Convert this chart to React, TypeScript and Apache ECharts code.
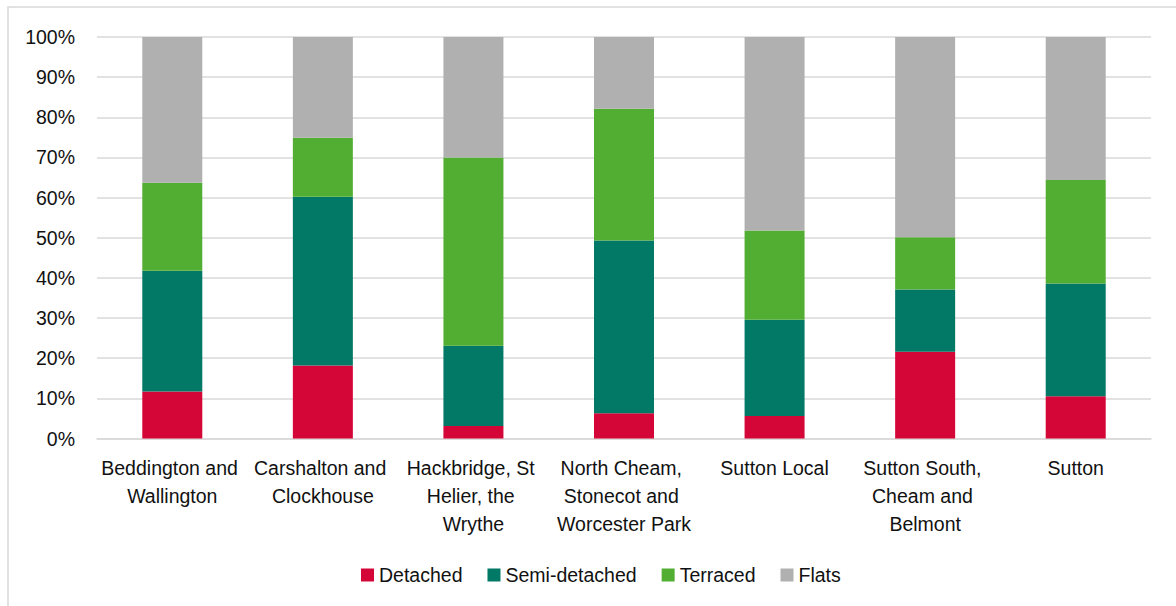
import React, { useEffect, useRef } from "react";
import * as echarts from "echarts";

// Housing stock by type, share of dwellings (%) per area
const areas = [
  "Beddington and Wallington",
  "Carshalton and Clockhouse",
  "Hackbridge, St Helier, the Wrythe",
  "North Cheam, Stonecot and Worcester Park",
  "Sutton Local",
  "Sutton South, Cheam and Belmont",
  "Sutton",
];

const detached = [11.7, 18.2, 3.1, 6.3, 5.6, 21.6, 10.5];
const semiDetached = [30.1, 42.0, 20.0, 43.0, 24.0, 15.5, 28.1];
const terraced = [21.9, 14.7, 46.9, 32.8, 22.2, 13.0, 25.8];
const flats = [36.3, 25.1, 30.0, 17.9, 48.2, 49.9, 35.6];

const seriesNames = ["Detached", "Semi-detached", "Terraced", "Flats"];
const seriesData = [detached, semiDetached, terraced, flats];
const seriesColors = ["#D40637", "#027866", "#52AE32", "#B0B0B0"];

const FONT = "'Liberation Sans', Arial, sans-serif";
const FONT_SIZE = 19.5;
const TEXT_COLOR = "#111111";

export default function App() {
  const ref = useRef<HTMLDivElement>(null);

  useEffect(() => {
    if (!ref.current) return;
    const chart = echarts.init(ref.current, undefined, { renderer: "svg" });
    chart.setOption({
      animation: false,
      backgroundColor: "#ffffff",
      textStyle: { fontFamily: FONT },
      graphic: [
        {
          type: "rect",
          shape: { x: 8, y: 7, width: 1200, height: 640 },
          style: { fill: "none", stroke: "#d9d9d9", lineWidth: 1.5 },
          silent: true,
        },
      ],
      grid: { left: 97, right: 25, top: 37, bottom: 167.5, containLabel: false },
      legend: {
        left: 356,
        top: 560,
        itemWidth: 13,
        itemHeight: 13,
        itemGap: 25,
        icon: "rect",
        textStyle: { fontSize: FONT_SIZE, color: TEXT_COLOR, fontFamily: FONT },
        data: seriesNames,
      },
      xAxis: {
        type: "category",
        data: areas,
        axisLine: { lineStyle: { color: "#d9d9d9", width: 1.5 } },
        axisTick: { show: false },
        axisLabel: {
          interval: 0,
          margin: 15,
          fontSize: FONT_SIZE,
          lineHeight: 28,
          color: TEXT_COLOR,
          fontFamily: FONT,
          width: 145,
          overflow: "break",
        },
      },
      yAxis: {
        type: "value",
        min: 0,
        max: 100,
        interval: 10,
        axisLine: { show: false },
        axisTick: { show: false },
        splitLine: { lineStyle: { color: "#d9d9d9", width: 1.5 } },
        axisLabel: {
          formatter: "{value}%",
          margin: 22,
          fontSize: FONT_SIZE,
          color: TEXT_COLOR,
          fontFamily: FONT,
        },
      },
      series: seriesNames.map((name, i) => ({
        name,
        type: "bar",
        stack: "share",
        barWidth: 60,
        data: seriesData[i],
        itemStyle: { color: seriesColors[i] },
      })),
    });
    return () => chart.dispose();
  }, []);

  return (
    <div
      ref={ref}
      style={{ position: "fixed", left: 0, top: 0, width: 1176, height: 606 }}
    />
  );
}
